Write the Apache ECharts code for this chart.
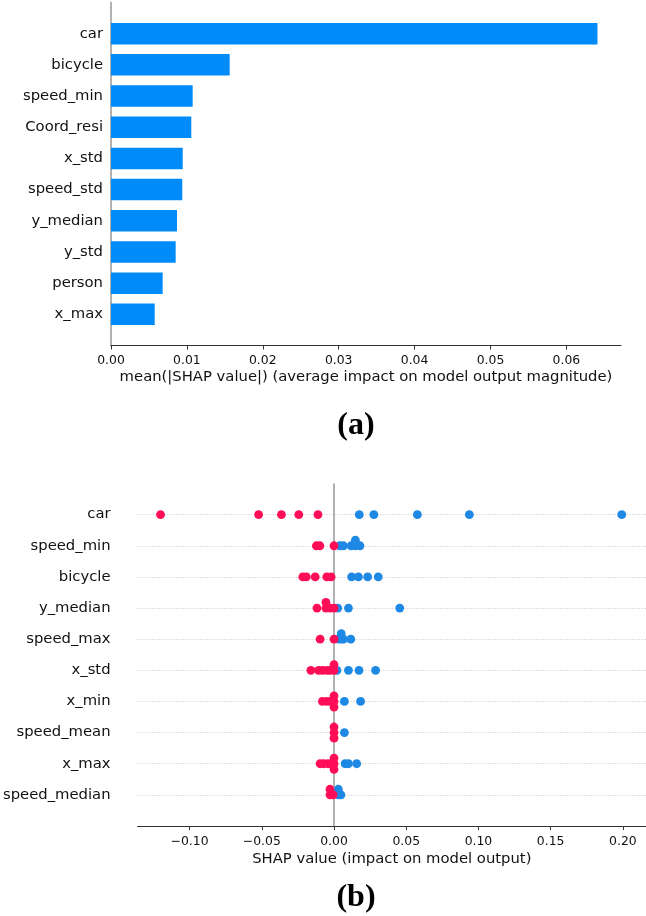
<!DOCTYPE html>
<html>
<head>
<meta charset="utf-8">
<script src="https://cdn.jsdelivr.net/npm/echarts@6/dist/echarts.min.js"></script>
<style>html,body{margin:0;padding:0;background:#fff;}#c{width:646px;height:916px;}</style>
</head>
<body>
<div id="c"></div>
<script>
// ---------- (a) mean |SHAP| bar chart ----------
const barFeatures = ['car','bicycle','speed_min','Coord_resi','x_std','speed_std','y_median','y_std','person','x_max'];
const barValues   = [0.0641, 0.01564, 0.01076, 0.01058, 0.00945, 0.00939, 0.00870, 0.00852, 0.00681, 0.00576];
const barTicks    = [0.00, 0.01, 0.02, 0.03, 0.04, 0.05, 0.06];

// ---------- (b) SHAP beeswarm ----------
const swarmFeatures = ['car','speed_min','bicycle','y_median','speed_max','x_std','x_min','speed_mean','x_max','speed_median'];
const shapRed = [
  [-0.1201, -0.0522, -0.0364, -0.0244, -0.0111],
  [-0.0122, -0.0098, 0.0],
  [-0.0216, -0.0192, -0.013, -0.005, -0.002],
  [-0.0118, -0.0056, -0.0056, -0.0027, 0.0],
  [-0.0096, 0.0],
  [-0.016, -0.0107, -0.008, -0.005, -0.0027, 0.0, 0.0],
  [-0.008, -0.005, -0.0025, 0.0, 0.0, 0.0],
  [0.0, 0.0, 0.0],
  [-0.0096, -0.0072, -0.0043, -0.002, 0.0, 0.0, 0.0],
  [-0.0028, -0.0028, -0.0006]
];
const shapBlue = [
  [0.0175, 0.0276, 0.0577, 0.0937, 0.1992],
  [0.004, 0.0065, 0.0118, 0.0148, 0.0148, 0.018],
  [0.0122, 0.0169, 0.0233, 0.0306],
  [0.0026, 0.01, 0.0455],
  [0.003, 0.005, 0.005, 0.0065, 0.0116],
  [0.002, 0.01, 0.0173, 0.0288],
  [0.0072, 0.0184],
  [0.0072],
  [0.0077, 0.01, 0.0157],
  [0.003, 0.003, 0.0048]
];
const swarmTicks = [-0.10, -0.05, 0.00, 0.05, 0.10, 0.15, 0.20];

// beeswarm layout in the style of shap.summary_plot (binning + alternating layers)
function swarmOffsets(vals) {
  const n = vals.length;
  const mn = Math.min(...vals), mx = Math.max(...vals);
  const quant = vals.map(v => Math.round(100 * (v - mn) / (mx - mn + 1e-8)));
  const inds = vals.map((_, i) => i).sort((a, b) => (quant[a] - quant[b]) || (a - b));
  const ys = new Array(n).fill(0);
  let layer = 0, last = -1;
  for (const ind of inds) {
    if (quant[ind] !== last) layer = 0;
    ys[ind] = Math.ceil(layer / 2) * ((layer % 2) * 2 - 1);
    layer++; last = quant[ind];
  }
  const m = Math.max(...ys) + 1;
  return ys.map(y => y * 0.9 * 0.4 / m);
}

const redPts = [], bluePts = [];
const nRows = swarmFeatures.length;
swarmFeatures.forEach((f, i) => {
  const r = shapRed[i], b = shapBlue[i];
  const all = r.concat(b);
  const off = swarmOffsets(all);
  const yBase = nRows - i;
  r.forEach((v, k) => redPts.push([v, yBase + off[k]]));
  b.forEach((v, k) => bluePts.push([v, yBase + off[r.length + k]]));
});

const padCats = [''].concat(barFeatures, ['']);
const padVals = [null].concat(barValues, [null]);

const FONT = 'DejaVu Sans';
const TXT = '#111';
const fmtMinus = v => (v < 0 ? '\u2212' : '') + Math.abs(v).toFixed(2);

const rowLines = swarmFeatures.map((_, i) => ({
  yAxis: i + 1,
  lineStyle: { color: '#c4c4c4', type: [1, 2], width: 1 }
}));
rowLines.push({ xAxis: 0, lineStyle: { color: '#999', type: 'solid', width: 1.5 } });

const chart = echarts.init(document.getElementById('c'), null, { renderer: 'canvas' });
chart.setOption({
  animation: false,
  backgroundColor: '#fff',
  textStyle: { fontFamily: FONT },
  grid: [
    { left: 111, top: 2.5, width: 510, height: 343 },
    { left: 134.3, top: 483.5, right: 0, height: 342.5 }
  ],
  xAxis: [
    {
      gridIndex: 0, type: 'value', min: 0, max: 0.0672,
      axisLine: { show: true, lineStyle: { color: '#333', width: 1 } },
      axisTick: { show: true, length: 4, customValues: barTicks, lineStyle: { color: '#333' } },
      axisLabel: { customValues: barTicks, formatter: v => v.toFixed(2), fontSize: 12.4, color: TXT, margin: 9, fontFamily: FONT },
      splitLine: { show: false },
      name: 'mean(|SHAP value|) (average impact on model output magnitude)',
      nameLocation: 'middle', nameGap: 24.5,
      nameTextStyle: { fontSize: 14.8, color: TXT, fontFamily: FONT }
    },
    {
      gridIndex: 1, type: 'value', min: -0.136, max: 0.216,
      axisLine: { show: true, lineStyle: { color: '#333', width: 1 } },
      axisTick: { show: true, length: 4, customValues: swarmTicks, lineStyle: { color: '#333' } },
      axisLabel: { customValues: swarmTicks, formatter: fmtMinus, fontSize: 12.4, color: TXT, margin: 10, fontFamily: FONT },
      splitLine: { show: false },
      name: 'SHAP value (impact on model output)',
      nameLocation: 'middle', nameGap: 25.5,
      nameTextStyle: { fontSize: 14.8, color: TXT, fontFamily: FONT }
    }
  ],
  yAxis: [
    {
      gridIndex: 0, type: 'category', data: padCats, inverse: true, boundaryGap: false,
      axisLine: { show: true, lineStyle: { color: '#999', width: 1.5 } },
      axisTick: { show: false },
      axisLabel: { interval: 0, fontSize: 14.8, color: TXT, margin: 8, fontFamily: FONT },
      splitLine: { show: false }
    },
    {
      gridIndex: 1, type: 'value', min: 0, max: nRows + 1, interval: 1,
      axisLine: { show: false }, axisTick: { show: false }, splitLine: { show: false },
      axisLabel: {
        fontSize: 14.8, color: TXT, margin: 27, fontFamily: FONT,
        formatter: v => (v >= 1 && v <= nRows) ? swarmFeatures[nRows - v] : ''
      }
    }
  ],
  series: [
    {
      type: 'bar', xAxisIndex: 0, yAxisIndex: 0, data: padVals,
      barWidth: 21.5, itemStyle: { color: '#008bfb' }, silent: true
    },
    {
      type: 'scatter', xAxisIndex: 1, yAxisIndex: 1, data: bluePts,
      symbolSize: 8.8, itemStyle: { color: '#1e88e5', opacity: 1 }, z: 3, silent: true
    },
    {
      type: 'scatter', xAxisIndex: 1, yAxisIndex: 1, data: redPts,
      symbolSize: 8.8, itemStyle: { color: '#ff0d57', opacity: 1 }, z: 4, silent: true,
      markLine: {
        silent: true, symbol: ['none', 'none'], label: { show: false }, z: 1,
        animation: false, data: rowLines
      }
    }
  ],
  graphic: [
    { type: 'text', x: 356, y: 426, style: { text: '(a)', font: 'bold 32px "Liberation Serif"', fill: '#000', textAlign: 'center', textVerticalAlign: 'middle' } },
    { type: 'text', x: 356, y: 898, style: { text: '(b)', font: 'bold 32px "Liberation Serif"', fill: '#000', textAlign: 'center', textVerticalAlign: 'middle' } }
  ]
});
</script>
</body>
</html>
